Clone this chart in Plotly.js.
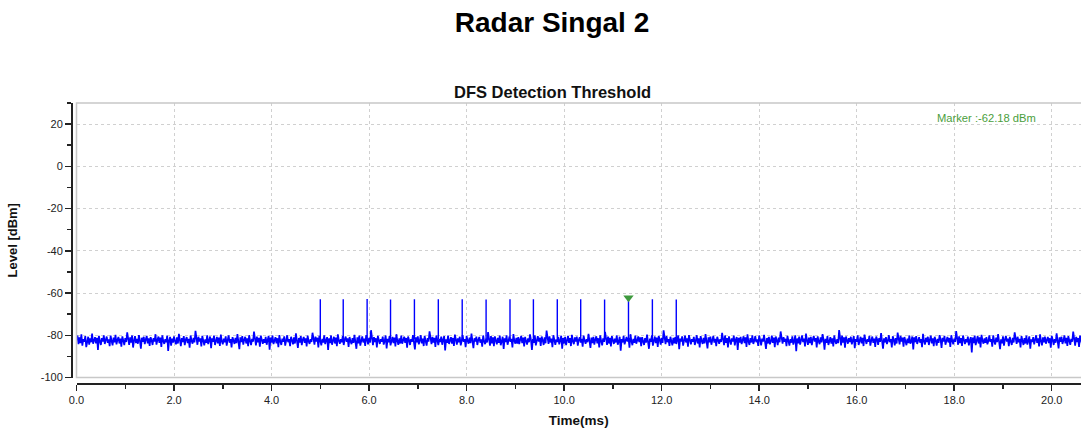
<!DOCTYPE html>
<html>
<head>
<meta charset="utf-8">
<script src="https://cdn.plot.ly/plotly-3.0.1.min.js"></script>
<style>html,body{margin:0;padding:0;background:#fff;}#chart{width:1081px;height:428px;}</style>
</head>
<body>
<div id="chart"></div>
<script>
// ---- data ----
const sampleStart = 0;      // ms
const sampleStep = 0.02;    // ms between noise samples
const noiseLevels = [
-82.3,-80.1,-84.2,-81.0,-83.7,-79.6,-84.9,-81.8,-83.1,-80.4,-85.6,-82.0,-80.7,-84.4,-81.5,-83.3,-79.2,-84.0,-82.6,-80.9,
-83.8,-81.2,-86.9,-80.3,-82.8,-84.6,-81.4,-83.0,-80.0,-84.1,-82.2,-80.6,-83.6,-81.9,-85.2,-80.2,-82.7,-84.8,-81.1,-83.4,
-79.8,-84.3,-82.1,-80.8,-83.9,-81.6,-85.4,-80.5,-82.4,-84.7,-81.3,-83.2,-78.6,-82.9,-84.5,-81.0,-83.5,-80.1,-85.8,-82.5,
-80.4,-83.7,-81.7,-84.0,-79.9,-82.6,-86.3,-81.2,-83.1,-80.7,-84.2,-82.0,-80.3,-83.8,-81.5,-85.0,-80.9,-82.3,-84.6,-81.4,
-83.0,-79.5,-84.4,-82.2,-80.6,-83.6,-81.1,-85.5,-80.0,-82.8,-84.1,-81.8,-83.3,-80.2,-87.4,-82.4,-80.8,-84.9,-81.6,-83.5,
-80.5,-82.9,-84.3,-81.0,-83.9,-79.3,-82.5,-85.1,-81.3,-83.2,-80.4,-84.7,-82.1,-80.9,-83.7,-81.7,-85.9,-80.1,-82.6,-84.0,
-81.2,-83.4,-77.9,-82.7,-84.5,-80.7,-83.0,-81.5,-85.3,-80.3,-82.2,-84.8,-81.9,-83.6,-80.0,-84.2,-82.4,-80.6,-86.1,-81.4,
-83.1,-80.2,-84.6,-82.0,-80.8,-83.8,-81.1,-85.0,-79.7,-82.9,-84.3,-81.6,-83.3,-80.5,-84.9,-82.3,-80.1,-83.5,-81.8,-85.7,
-80.9,-82.5,-84.1,-81.3,-83.7,-79.4,-82.8,-86.6,-81.0,-83.2,-80.4,-84.4,-82.1,-80.7,-83.9,-81.5,-85.2,-80.0,-82.6,-84.7,
-81.7,-83.0,-78.3,-82.4,-84.8,-80.6,-83.4,-81.2,-85.4,-80.2,-82.7,-84.0,-81.9,-83.6,-80.8,-84.5,-82.2,-80.3,-86.8,-81.1,
-83.5,-80.1,-84.2,-82.0,-80.9,-83.8,-81.4,-85.6,-79.9,-82.9,-84.6,-81.6,-83.1,-80.5,-84.9,-82.5,-80.0,-83.3,-81.8,-85.1,
-80.7,-82.3,-84.3,-81.0,-83.9,-79.1,-82.6,-86.0,-81.3,-83.4,-80.4,-84.7,-82.1,-80.8,-83.6,-81.5,-85.3,-80.2,-82.8,-84.1,
-81.9,-83.2,-78.8,-82.4,-84.4,-80.6,-83.0,-81.2,-85.8,-80.3,-82.7,-84.8,-81.7,-83.5,-80.0,-84.2,-82.3,-80.9,-87.0,-81.4,
-83.7,-80.1,-84.5,-82.2,-80.7,-83.9,-81.1,-85.2,-79.6,-82.5,-84.0,-81.8,-83.3,-80.4,-84.6,-82.0,-80.6,-83.1,-81.5,-85.5,
-80.8,-82.9,-84.2,-81.3,-83.6,-79.8,-82.4,-86.4,-81.0,-83.8,-80.2,-84.9,-82.6,-80.5,-83.4,-81.6,-85.0,-80.0,-82.1,-84.3,
-81.2,-83.5,-77.6,-82.8,-84.7,-80.9,-83.2,-81.4,-85.7,-80.3,-82.3,-84.1,-81.9,-83.0,-80.6,-84.4,-82.7,-80.1,-86.2,-81.7,
-83.3,-80.4,-84.8,-82.0,-80.8,-83.7,-81.1,-85.3,-79.5,-82.6,-84.5,-81.5,-83.9,-80.2,-84.0,-82.4,-80.7,-83.6,-81.3,-85.9,
-80.6,-82.2,-84.6,-81.8,-83.1,-79.9,-82.9,-86.7,-81.0,-83.4,-80.5,-84.3,-82.5,-80.0,-83.8,-81.6,-85.1,-80.3,-82.7,-84.9,
-81.4,-83.0,-78.1,-82.3,-84.2,-80.8,-83.5,-81.2,-85.5,-80.1,-82.8,-84.7,-81.7,-83.2,-80.6,-84.5,-82.1,-80.4,-87.2,-81.9,
-83.6,-80.2,-84.1,-82.4,-80.9,-83.9,-81.3,-85.0,-79.7,-82.0,-84.4,-81.5,-83.3,-80.7,-84.8,-82.6,-80.0,-83.1,-81.8,-85.6,
-80.3,-82.5,-84.0,-81.1,-83.7,-79.2,-82.7,-86.1,-81.4,-83.0,-80.6,-84.6,-82.2,-80.8,-83.5,-81.9,-85.4,-80.1,-82.9,-84.2,
-81.6,-83.4,-78.5,-82.1,-84.9,-80.4,-83.8,-81.0,-85.2,-80.5,-82.4,-84.3,-81.2,-83.6,-80.2,-84.7,-82.8,-80.7,-86.5,-81.5,
-83.2,-80.0,-84.5,-82.3,-80.6,-83.1,-81.7,-85.8,-79.4,-82.6,-84.0,-81.3,-83.9,-80.9,-84.2,-82.0,-80.3,-83.7,-81.1,-85.3,
-80.8,-82.7,-84.4,-81.5,-83.3,-79.6,-82.2,-86.9,-81.8,-83.5,-80.1,-84.8,-82.5,-80.4,-83.0,-81.2,-85.0,-80.6,-82.3,-84.6,
-81.0,-83.8,-77.8,-82.9,-84.1,-80.5,-83.4,-81.6,-85.6,-80.0,-82.1,-84.5,-81.9,-83.2,-80.8,-84.3,-82.4,-80.2,-86.3,-81.3,
-83.9,-80.7,-84.7,-82.6,-80.3,-83.6,-81.4,-85.1,-79.8,-82.8,-84.2,-81.0,-83.0,-80.6,-84.9,-82.2,-80.9,-83.5,-81.7,-85.4,
-80.2,-82.4,-84.0,-81.9,-83.3,-79.3,-82.6,-86.0,-81.1,-83.7,-80.8,-84.4,-82.0,-80.5,-83.8,-81.4,-85.7,-80.0,-82.7,-84.8,
-81.5,-83.1,-78.4,-82.2,-84.6,-80.6,-83.9,-81.2,-85.3,-80.4,-82.5,-84.1,-81.6,-83.4,-80.1,-84.5,-82.9,-80.7,-87.3,-81.8,
-83.4,-80.3,-84.3,-82.1,-80.8,-83.0,-81.3,-85.9,-79.5,-82.7,-84.7,-81.7,-83.6,-80.2,-84.0,-82.4,-80.5,-83.2,-81.0,-85.2,
-80.9,-82.8,-84.6,-81.4,-83.5,-79.7,-82.3,-86.4,-81.6,-83.1,-80.0,-84.9,-82.6,-80.6,-83.7,-81.1,-85.5,-80.3,-82.0,-84.4,
-81.3,-83.6,-77.7,-82.5,-84.2,-80.4,-83.3,-81.8,-85.0,-80.7,-82.9,-84.8,-81.2,-83.8,-80.9,-84.1,-82.2,-80.1,-86.6,-81.6,
-83.0,-80.5,-84.9,-82.7,-80.2,-83.4,-81.5,-85.4,-79.9,-82.1,-84.3,-81.9,-83.1,-80.8,-84.6,-82.5,-80.0,-83.9,-81.4,-85.8,
-80.4,-82.6,-84.1,-81.2,-83.8,-79.4,-82.8,-86.2,-81.0,-83.3,-80.6,-84.5,-82.3,-80.3,-83.5,-81.7,-85.1,-80.7,-82.4,-84.0,
-81.8,-83.2,-78.9,-82.0,-84.7,-80.1,-83.6,-81.3,-85.7,-80.5,-82.7,-84.4,-81.5,-83.0,-80.2,-84.8,-82.1,-80.9,-86.9,-81.2,
-83.5,-80.8,-84.2,-82.4,-80.5,-83.7,-81.0,-85.5,-79.6,-82.9,-84.6,-81.4,-83.4,-80.0,-84.1,-82.6,-80.4,-83.3,-81.9,-85.0,
-80.1,-82.2,-84.8,-81.6,-83.0,-79.8,-82.5,-86.5,-81.3,-83.9,-80.7,-84.3,-82.8,-80.2,-83.6,-81.1,-85.6,-80.6,-82.3,-84.7,
-81.1,-83.3,-78.2,-82.6,-84.0,-80.9,-83.1,-81.7,-85.2,-80.3,-82.0,-84.9,-81.8,-83.5,-80.5,-84.4,-82.7,-80.0,-87.5,-81.5,
-83.8,-80.6,-84.4,-82.2,-80.1,-83.2,-81.6,-85.3,-79.2,-82.4,-84.5,-81.1,-83.7,-80.8,-84.7,-82.0,-80.3,-83.0,-81.3,-85.7,
-80.5,-82.9,-84.2,-81.0,-83.4,-79.5,-82.1,-86.8,-81.7,-83.6,-80.4,-84.6,-82.3,-80.9,-83.9,-81.5,-85.3,-80.1,-82.8,-84.1,
-81.9,-83.7,-77.5,-82.3,-84.8,-80.2,-83.5,-81.0,-85.9,-80.6,-82.6,-84.0,-81.4,-83.2,-80.7,-84.3,-82.5,-80.4,-86.1,-81.8,
-83.1,-80.0,-84.6,-82.8,-80.7,-83.8,-81.2,-85.1,-79.7,-82.2,-84.1,-81.9,-83.0,-80.3,-84.9,-82.4,-80.6,-83.6,-81.6,-85.5,
-80.6,-82.0,-84.5,-81.3,-83.1,-79.0,-82.7,-86.3,-81.5,-83.4,-80.9,-84.2,-82.6,-80.0,-83.3,-81.8,-85.8,-80.5,-82.1,-84.8,
-81.4,-83.9,-78.7,-82.7,-84.3,-80.3,-83.0,-81.1,-85.4,-80.8,-82.3,-84.7,-81.6,-83.7,-80.1,-84.0,-82.9,-80.6,-86.7,-81.0,
-83.3,-80.4,-84.1,-82.5,-80.9,-83.5,-81.8,-85.6,-79.3,-82.8,-84.4,-81.2,-83.2,-80.7,-84.6,-82.1,-80.2,-83.8,-81.5,-85.2,
-80.7,-82.4,-84.9,-81.7,-83.6,-79.9,-82.0,-86.0,-81.2,-83.0,-80.3,-84.5,-82.2,-80.8,-83.4,-81.3,-85.5,-80.0,-82.6,-84.3,
-81.6,-83.1,-78.0,-82.1,-84.5,-80.5,-83.7,-81.4,-85.0,-80.1,-82.8,-84.2,-81.9,-83.3,-80.6,-84.8,-82.3,-80.9,-88.1,-81.1,
-83.7,-80.2,-84.7,-82.0,-80.4,-83.9,-81.0,-85.7,-79.8,-82.5,-84.0,-81.5,-83.6,-80.9,-84.3,-82.7,-80.1,-83.1,-81.8,-85.4,
-80.0,-82.7,-84.4,-81.1,-83.2,-79.4,-82.4,-86.6,-81.9,-83.8,-80.5,-84.9,-82.1,-80.3,-83.0,-81.6,-85.2,-80.8,-82.9,-84.6,
-81.2,-83.4,-78.6,-82.9,-84.1,-80.7,-83.3,-81.7,-85.8,-80.4,-82.0,-84.6,-81.3,-83.9,-80.2,-84.4,-82.6,-80.5,-86.4,-81.9,
-83.2,-80.9,-84.3,-82.3,-80.0,-83.6,-81.5,-85.3,-79.6,-82.6,-84.8,-81.0,-83.4,-80.6,-84.0,-82.2,-80.8,-83.7,-81.4,-85.9,
-80.3,-82.1,-84.6,-81.8,-83.5,-79.1,-82.9,-86.2,-81.0,-83.1,-80.7,-84.1,-82.4,-80.1,-83.8,-81.2,-85.0,-80.4,-82.5,-84.5,
-81.7,-83.0,-78.3,-82.6,-84.9,-80.8,-83.2,-81.3,-85.5,-80.2,-82.2,-84.3,-81.6,-83.5,-80.5,-84.7,-82.0,-80.6,-86.8,-81.4
];
const pulseTimes  = [5.00, 5.47, 5.96, 6.44, 6.93, 7.42, 7.91, 8.40, 8.89, 9.37, 9.86, 10.34, 10.83, 11.32, 11.81, 12.30];
const pulseLevels = [-63.0, -63.0, -62.8, -63.1, -62.9, -63.0, -63.0, -63.1, -63.0, -62.9, -63.0, -62.9, -63.1, -62.18, -63.0, -63.1];
const pulseBase = -82.0;
const markerTime = 11.32;
const markerLevel = -62.18;
const markerLabel = 'Marker :-62.18 dBm';
const xTickVals = [0, 2, 4, 6, 8, 10, 12, 14, 16, 18, 20];
const xTickText = ['0.0','2.0','4.0','6.0','8.0','10.0','12.0','14.0','16.0','18.0','20.0'];
const xMinorVals = [1, 3, 5, 7, 9, 11, 13, 15, 17, 19];
const yTickVals = [-100, -80, -60, -40, -20, 0, 20];
const yTickText = ['-100','-80','-60','-40','-20','0','20'];
const yMinorVals = [-90, -70, -50, -30, -10, 10, 30];

// ---- build pulse segments ----
const px = [], py = [];
pulseTimes.forEach((t, i) => { px.push(t, t, null); py.push(pulseBase, pulseLevels[i], null); });

const FONT = 'Liberation Sans, Arial, sans-serif';
const traces = [
  {type:'scatter', mode:'lines', x0:sampleStart, dx:sampleStep, y:noiseLevels,
   line:{color:'#0000ff', width:1.7}, hoverinfo:'skip', showlegend:false},
  {type:'scatter', mode:'lines', x:px, y:py,
   line:{color:'#0000ff', width:1.4}, hoverinfo:'skip', showlegend:false},
  {type:'scatter', mode:'markers', x:[markerTime], y:[markerLevel],
   marker:{symbol:'triangle-down', size:9, color:'#3e9a3e', line:{width:0}},
   cliponaxis:false, hoverinfo:'skip', showlegend:false}
];

const layout = {
  width:1081, height:428,
  margin:{l:71, r:0, t:103, b:45},
  paper_bgcolor:'#ffffff', plot_bgcolor:'#ffffff',
  font:{family:FONT, color:'#222'},
  showlegend:false,
  title:{text:'<b>Radar Singal 2</b>', xref:'container', yref:'container',
         x:552/1081, xanchor:'center', y:1-22/428, yanchor:'middle',
         font:{family:FONT, size:28, color:'#000'}},
  xaxis:{
    domain:[5.5/1010, 1], anchor:'free', position:0,
    range:[0, 20.6], tickmode:'array', tickvals:xTickVals, ticktext:xTickText,
    ticks:'outside', ticklen:6, tickwidth:1.5, tickcolor:'#222',
    showline:true, linecolor:'#222', linewidth:1.5,
    showgrid:true, gridcolor:'#d0d0d0', griddash:'3px,3px', gridwidth:1,
    zeroline:false, tickfont:{family:FONT, size:11, color:'#222'},
    minor:{tickmode:'array', tickvals:xMinorVals, ticks:'outside', ticklen:4, tickwidth:1.5, tickcolor:'#222', showgrid:false},
    title:{text:'<b>Time(ms)</b>', font:{family:FONT, size:13.5, color:'#111'}, standoff:11}
  },
  yaxis:{
    domain:[5.5/280, 1], anchor:'free', position:0,
    range:[-100, 30], tickmode:'array', tickvals:yTickVals, ticktext:yTickText,
    ticks:'outside', ticklen:6, tickwidth:1.5, tickcolor:'#222',
    showline:true, linecolor:'#222', linewidth:1.5,
    showgrid:true, gridcolor:'#d0d0d0', griddash:'3px,3px', gridwidth:1,
    zeroline:false, tickfont:{family:FONT, size:11, color:'#222'},
    minor:{tickmode:'array', tickvals:yMinorVals, ticks:'outside', ticklen:4, tickwidth:1.5, tickcolor:'#222', showgrid:false},
    title:{text:'<b>Level [dBm]</b>', font:{family:FONT, size:13, color:'#111'}, standoff:18}
  },
  shapes:[
    {type:'rect', xref:'x domain', yref:'y domain', x0:0, x1:1.03, y0:0, y1:1,
     line:{color:'#c8c8c8', width:1.5}, fillcolor:'rgba(0,0,0,0)', layer:'above'}
  ],
  annotations:[
    {text:'<b>DFS Detection Threshold</b>', xref:'paper', yref:'paper',
     x:(552-71)/1010, y:(383-92)/280, xanchor:'center', yanchor:'middle', showarrow:false,
     font:{family:FONT, size:16.5, color:'#111'}},
    {text:markerLabel, xref:'paper', yref:'paper',
     x:(935-71)/1010, y:(383-118)/280, xanchor:'left', yanchor:'middle', showarrow:false,
     font:{family:FONT, size:11.2, color:'#4a9e3c'}}
  ]
};

Plotly.newPlot('chart', traces, layout, {displayModeBar:false, staticPlot:true});
</script>
</body>
</html>
